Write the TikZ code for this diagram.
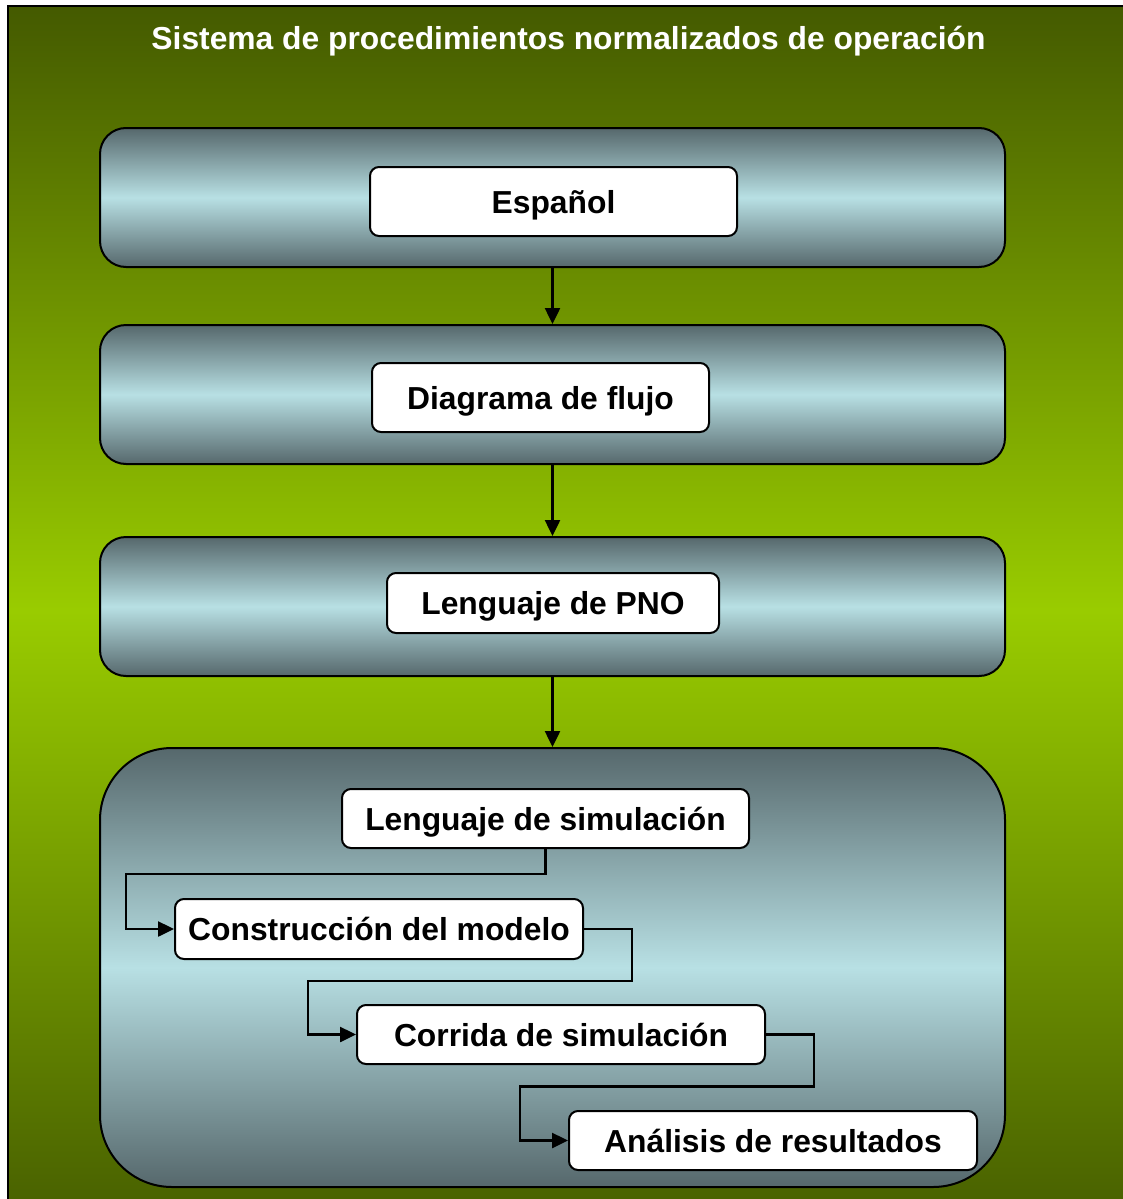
\documentclass[tikz,border=0pt]{standalone}
\usepackage{fontspec}
\setmainfont{Liberation Sans}
\usetikzlibrary{arrows.meta,calc}
\definecolor{bgtop}{RGB}{68,90,0}
\definecolor{bgmid}{RGB}{153,204,0}
\definecolor{bgbot}{RGB}{72,96,0}
\definecolor{banddark}{RGB}{86,104,108}
\definecolor{bandlight}{RGB}{184,224,228}
\tikzset{
  bandbox/.style={draw=black, line width=2pt, rounded corners=26pt,
    top color=banddark, bottom color=banddark, middle color=bandlight,
    minimum width=905pt, inner sep=0pt},
  textbox/.style={draw=black, line width=2pt, fill=white, rounded corners=9pt,
    inner sep=0pt, text height=27pt, text depth=4pt,
    font=\fontsize{31.8}{36}\selectfont\bfseries},
  conn/.style={draw=black, line width=2.5pt, -{Triangle[length=16pt,width=15pt]}},
}
\begin{document}
\begin{tikzpicture}[x=1pt,y=-1pt]
\useasboundingbox (0,0) rectangle (1123,1199);
\path[draw=black, line width=2.5pt, top color=bgtop, bottom color=bgbot, middle color=bgmid]
  (8,6) rectangle (1140,1215);
\node[text=white, anchor=base, inner sep=0pt, font=\fontsize{31.8}{36}\selectfont\bfseries] (title) at (568.5,50) {Sistema de procedimientos normalizados de operación};

\node[bandbox, minimum height=139pt] (b1) at (552.5,197.5) {};
\node[bandbox, minimum height=139pt] (b2) at (552.5,394.5) {};
\node[bandbox, minimum height=139pt] (b3) at (552.5,606.5) {};
\node[bandbox, minimum height=439pt, rounded corners=72pt] (b4) at (552.5,967.5) {};

\node[textbox, minimum width=367pt, minimum height=69pt] (es) at (553.5,201.5) {Español};
\node[textbox, minimum width=337pt, minimum height=69pt] (df) at (540.5,397.5) {Diagrama de flujo};
\node[textbox, minimum width=332pt, minimum height=60pt] (lp) at (553,603) {Lenguaje de PNO};
\node[textbox, minimum width=407pt, minimum height=59pt] (ls) at (545.5,818.5) {Lenguaje de simulación};
\node[textbox, minimum width=408pt, minimum height=60pt] (cm) at (379,929) {Construcción del modelo};
\node[textbox, minimum width=408pt, minimum height=59pt] (cr) at (561,1034.5) {Corrida de simulación};
\node[textbox, minimum width=408pt, minimum height=59pt] (an) at (773,1140.5) {Análisis de resultados};

\draw[conn] (b1.south) -- (b2.north);
\draw[conn] (b2.south) -- (b3.north);
\draw[conn] (b3.south) -- (b4.north);

\draw[conn] (ls.south) -- ++(0,25) -| ([xshift=-48pt]cm.west) -- (cm.west);
\draw[conn] (cm.east) -- ++(48,0) -- ++(0,52) -| ([xshift=-48pt]cr.west) -- (cr.west);
\draw[conn] (cr.east) -- ++(48,0) -- ++(0,52) -| ([xshift=-48pt]an.west) -- (an.west);
\end{tikzpicture}
\end{document}
